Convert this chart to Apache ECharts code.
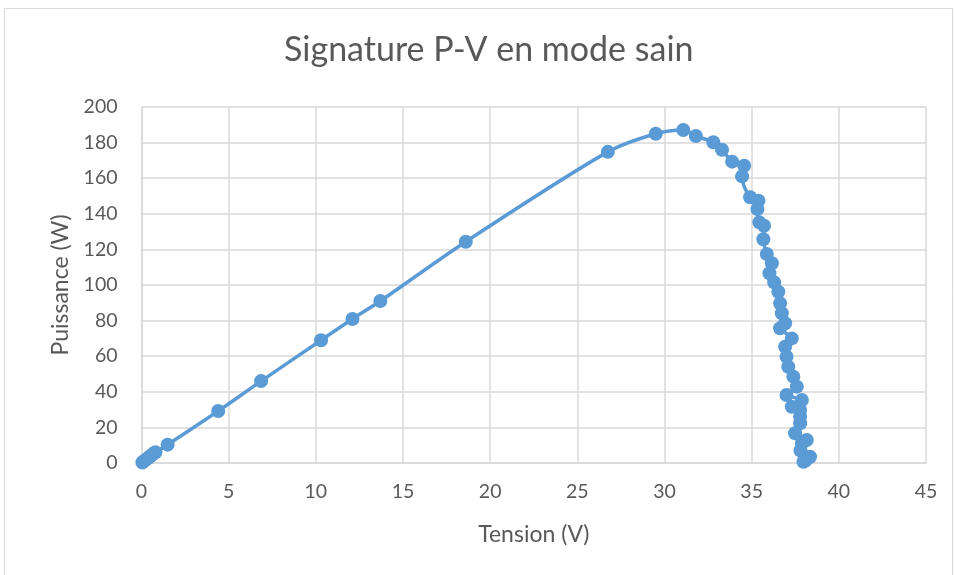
<!DOCTYPE html>
<html>
<head>
<meta charset="utf-8">
<script src="https://cdn.jsdelivr.net/npm/echarts@6/dist/echarts.min.js"></script>
<style>
  html, body { margin: 0; padding: 0; background: #fff; }
  #chart { width: 954px; height: 575px; }
</style>
</head>
<body>
<div id="chart"></div>
<script>
// Mesures du panneau : tension (V) et puissance (W), dans l'ordre d'acquisition
const tension = [
  0.05, 0.1, 0.2, 0.35, 0.5, 0.65, 0.8, 1.5, 4.4, 6.86,
  10.3, 12.1, 13.7, 18.6, 26.75, 29.5, 31.08, 31.8, 32.8, 33.3,
  33.88, 34.57, 34.45, 34.91, 35.39, 35.33, 35.44, 35.71, 35.67, 35.87,
  36.16, 36.02, 36.29, 36.53, 36.63, 36.73, 36.92, 36.63, 37.3, 36.92,
  37.0, 37.1, 37.39, 37.59, 37.0, 37.88, 37.3, 37.78, 37.78, 37.78,
  37.49, 38.16, 37.88, 37.8, 38.35, 37.97, 38.1
];
const puissance = [
  0.3, 0.8, 1.5, 2.6, 3.8, 5.0, 6.0, 10.3, 29.2, 46,
  69, 80.9, 91, 124.3, 174.8, 185, 187.1, 183.7, 180.2, 176,
  169.3, 167, 161, 149.3, 147.4, 142.7, 135.2, 133.3, 125.7, 117.4,
  112.2, 106.6, 101.5, 96.2, 89.7, 84.1, 78.5, 75.7, 70, 65.3,
  59.7, 54.1, 48.5, 42.9, 38.2, 35.4, 31.6, 29.8, 26, 22.3,
  16.7, 12.9, 11, 7, 3.5, 0.7, 1.5
];

const titre = 'Signature P-V en mode sain';
const nomAxeX = 'Tension (V)';
const nomAxeY = 'Puissance (W)';

const points = tension.map((v, i) => [v, puissance[i]]);

const textColor = '#595959';
const gridColor = '#d9d9d9';
const font = 'Lato, "Open Sans", sans-serif';

const chart = echarts.init(document.getElementById('chart'), null, { renderer: 'canvas' });
chart.setOption({
  animation: false,
  backgroundColor: '#ffffff',
  graphic: [{
    type: 'rect',
    shape: { x: 4.5, y: 8.5, width: 948, height: 600 },
    style: { fill: 'none', stroke: '#d9d9d9', lineWidth: 1 },
    silent: true,
    z: -1
  }],
  title: {
    text: titre,
    left: 279,
    top: 28,
    textStyle: { fontFamily: font, fontSize: 34, fontWeight: 'normal', color: textColor }
  },
  grid: { left: 141.5, right: 28, top: 107, bottom: 112 },
  xAxis: {
    type: 'value',
    min: 0, max: 45, interval: 5,
    name: nomAxeX,
    nameLocation: 'middle',
    nameGap: 60,
    nameTextStyle: { fontFamily: font, fontSize: 23, color: textColor },
    axisLine: { lineStyle: { color: gridColor, width: 1.5 } },
    axisTick: { show: false },
    axisLabel: { margin: 19, fontFamily: font, fontSize: 19.5, color: textColor },
    splitLine: { show: true, lineStyle: { color: gridColor, width: 1.5 } }
  },
  yAxis: {
    type: 'value',
    min: 0, max: 200, interval: 20,
    name: nomAxeY,
    nameLocation: 'middle',
    nameGap: 69,
    nameTextStyle: { fontFamily: font, fontSize: 23, color: textColor },
    axisLine: { show: true, lineStyle: { color: gridColor, width: 1.5 } },
    axisTick: { show: false },
    axisLabel: { margin: 24, fontFamily: font, fontSize: 19.5, color: textColor },
    splitLine: { show: true, lineStyle: { color: gridColor, width: 1.5 } }
  },
  series: [{
    type: 'line',
    data: points,
    smooth: 0.3,
    symbol: 'circle',
    symbolSize: 14,
    showAllSymbol: true,
    itemStyle: { color: '#5b9bd5' },
    lineStyle: { color: '#5b9bd5', width: 3.5 }
  }]
});
</script>
</body>
</html>
